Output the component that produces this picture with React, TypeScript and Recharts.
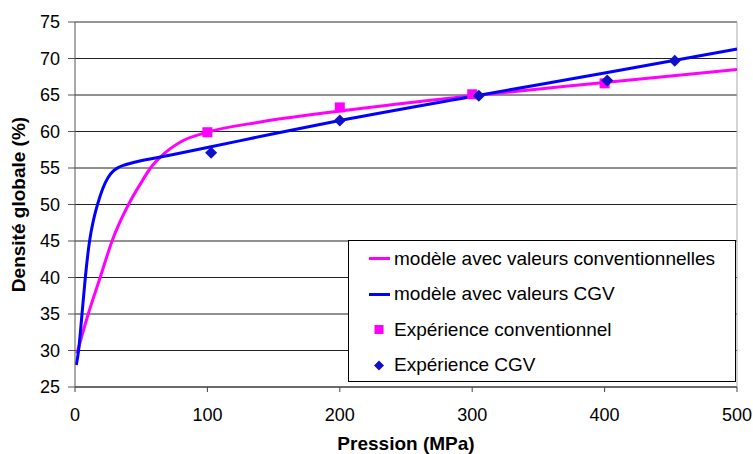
import React from 'react';
import { ComposedChart, Line, Scatter, XAxis, YAxis, CartesianGrid, ReferenceLine, Legend, Label } from 'recharts';

// ---- data ----
const modelConvP = [1.5, 10, 19, 28, 41, 50, 57, 64.5, 80, 100, 140, 200, 300, 400, 500];
const modelConvD = [29.6, 35, 40, 45, 50.2, 53, 55, 56.5, 58.6, 59.9, 61.3, 62.8, 64.9, 66.7, 68.5];

const modelCgvP = [1, 2.7, 5.3, 7.8, 11, 14, 17, 21, 25, 29, 33, 38, 44, 64.5, 100, 150, 200, 300, 400, 500];
const modelCgvD = [28, 30, 35, 40, 45, 47.9, 50, 52.2, 53.7, 54.6, 55.1, 55.45, 55.75, 56.5, 57.8, 59.7, 61.5, 64.8, 68.0, 71.3];

const expConvP = [100, 200, 300, 400];
const expConvD = [59.9, 63.3, 65.1, 66.6];

const expCgvP = [102.8, 200, 305, 402, 453];
const expCgvD = [57.1, 61.5, 64.9, 67.0, 69.7];

const xTicks = [0, 100, 200, 300, 400, 500];
const yTicks = [25, 30, 35, 40, 45, 50, 55, 60, 65, 70, 75];

const seriesNames = [
  'modèle avec valeurs conventionnelles',
  'modèle avec valeurs CGV',
  'Expérience conventionnel',
  'Expérience CGV',
];
const xTitle = 'Pression (MPa)';
const yTitle = 'Densité globale (%)';

// ---- styles ----
const FONT = '"Liberation Sans", Arial, sans-serif';
const MAGENTA = '#FF00FF';
const BLUE = '#0000FF';
const BLUE_D = '#1010C8';

const zip = (ps: number[], ds: number[]) => ps.map((p, i) => ({ p, d: ds[i] }));
const modelConv = zip(modelConvP, modelConvD);
const modelCgv = zip(modelCgvP, modelCgvD);
const expConv = zip(expConvP, expConvD);
const expCgv = zip(expCgvP, expCgvD);

const SquareShape = (props: any) => {
  const { cx, cy } = props;
  return <rect x={cx - 5} y={cy - 5} width={10} height={10} fill={MAGENTA} />;
};
const DiamondShape = (props: any) => {
  const { cx, cy } = props;
  return <path d={`M${cx},${cy - 6}L${cx + 6},${cy}L${cx},${cy + 6}L${cx - 6},${cy}Z`} fill={BLUE_D} />;
};

const XTick = (props: any) => {
  const { x, y, payload } = props;
  return (
    <text x={x} y={y} dy="0.71em" textAnchor="middle" fontFamily={FONT} fontSize={18} fill="#000">
      {payload.value}
    </text>
  );
};
const YTick = (props: any) => {
  const { x, y, payload } = props;
  return (
    <text x={x} y={y} dy="0.355em" textAnchor="end" fontFamily={FONT} fontSize={18} fill="#000">
      {payload.value}
    </text>
  );
};

const XTitle = (props: any) => {
  const vb = props.viewBox;
  return (
    <text x={vb.x + vb.width / 2} y={vb.y + vb.height - 4} textAnchor="middle" fontFamily={FONT} fontWeight="bold" fontSize={19} fill="#000">
      {xTitle}
    </text>
  );
};
const YTitle = (props: any) => {
  const vb = props.viewBox;
  const x = vb.x + 24.5;
  const y = vb.y + vb.height / 2;
  return (
    <text x={x} y={y} transform={`rotate(-90, ${x}, ${y})`} textAnchor="middle" fontFamily={FONT} fontWeight="bold" fontSize={19} fill="#000">
      {yTitle}
    </text>
  );
};

const legendIcons = ['line-m', 'line-b', 'square', 'diamond'];

const LegendBox = () => (
  <div
    style={{
      width: 388,
      height: 142,
      boxSizing: 'border-box',
      border: '1px solid #000',
      background: '#fff',
      fontFamily: FONT,
      fontSize: 19,
      color: '#000',
      overflow: 'hidden',
    }}
  >
    {seriesNames.map((name, i) => (
      <div key={name} style={{ height: 35.5, display: 'flex', alignItems: 'center' }}>
        <svg width={45} height={35} style={{ flex: 'none' }}>
          {legendIcons[i] === 'line-m' && <line x1={20} x2={41} y1={17.5} y2={17.5} stroke={MAGENTA} strokeWidth={3} />}
          {legendIcons[i] === 'line-b' && <line x1={20} x2={41} y1={17.5} y2={17.5} stroke={BLUE} strokeWidth={3} />}
          {legendIcons[i] === 'square' && <rect x={25.5} y={13} width={9} height={9} fill={MAGENTA} />}
          {legendIcons[i] === 'diamond' && <path d="M30,12.5L35,17.5L30,22.5L25,17.5Z" fill={BLUE_D} />}
        </svg>
        <span style={{ whiteSpace: 'nowrap' }}>{name}</span>
      </div>
    ))}
  </div>
);

export default function App() {
  return (
    <div style={{ position: 'absolute', left: 0, top: 0, width: 753, height: 454, background: '#fff' }}>
      <ComposedChart width={753} height={454} margin={{ top: 22, right: 16, left: 0, bottom: 0 }}>
        <CartesianGrid horizontal vertical={false} stroke="#222" />
        <XAxis
          dataKey="p"
          type="number"
          domain={[0, 500]}
          ticks={xTicks}
          height={67}
          tickSize={5}
          tickMargin={16}
          stroke="#444"
          tick={<XTick />}
          interval={0}
        >
          <Label content={<XTitle />} />
        </XAxis>
        <YAxis
          type="number"
          domain={[25, 75]}
          ticks={yTicks}
          width={75}
          tickSize={7}
          tickMargin={8}
          stroke="#555"
          tick={<YTick />}
          interval={0}
        >
          <Label content={<YTitle />} />
        </YAxis>
        <ReferenceLine y={75} stroke="#999" />
        <ReferenceLine x={500} stroke="#aaa" />
        <Line data={modelConv} dataKey="d" type="monotone" stroke={MAGENTA} strokeWidth={3} dot={false} activeDot={false} isAnimationActive={false} name={seriesNames[0]} />
        <Line data={modelCgv} dataKey="d" type="monotone" stroke={BLUE} strokeWidth={3} dot={false} activeDot={false} isAnimationActive={false} name={seriesNames[1]} />
        <Scatter data={expConv} dataKey="d" shape={<SquareShape />} isAnimationActive={false} name={seriesNames[2]} />
        <Scatter data={expCgv} dataKey="d" shape={<DiamondShape />} isAnimationActive={false} name={seriesNames[3]} />
        <Legend
          layout="vertical"
          align="center"
          verticalAlign="middle"
          wrapperStyle={{ left: 348, top: 240, width: 388, height: 142 }}
          content={<LegendBox />}
        />
      </ComposedChart>
    </div>
  );
}
